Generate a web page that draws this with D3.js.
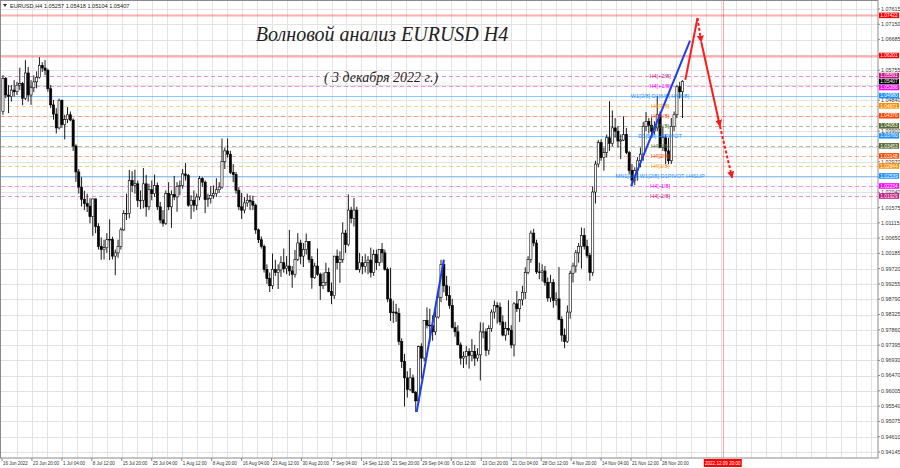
<!DOCTYPE html>
<html><head><meta charset="utf-8">
<script src="https://cdn.jsdelivr.net/npm/d3@7"></script>
<style>body{margin:0;background:#fff}svg{display:block}text{font-family:"Liberation Sans",Arial,sans-serif}</style>
</head><body><svg id="c" width="900" height="468"></svg>
<script>
// ---- data: EURUSD, half-day candles (3 H4 bars each), first = 16 Jun 12:00 ----
const firstOpen = 1.0450;
const highs = [1.0560,1.0555,1.0530,1.0530,1.0545,1.0540,1.0583,1.0540,1.0606,1.0585,
1.0545,1.0560,1.0572,1.0615,1.0600,1.0606,1.0580,1.0530,1.0485,1.0460,
1.0489,1.0486,1.0440,1.0463,1.0450,1.0429,1.0350,1.0275,1.0250,1.0209,
1.0200,1.0186,1.0185,1.0185,1.0110,1.0067,1.0060,1.0080,1.0122,1.0069,
1.0030,1.0060,1.0097,1.0150,1.0200,1.0272,1.0268,1.0273,1.0240,1.0210,
1.0278,1.0257,1.0230,1.0240,1.0258,1.0234,1.0175,1.0150,1.0210,1.0235,
1.0210,1.0254,1.0235,1.0240,1.0275,1.0293,1.0260,1.0195,1.0210,1.0200,
1.0254,1.0250,1.0240,1.0200,1.0223,1.0225,1.0247,1.0235,1.0368,1.0340,
1.0368,1.0330,1.0290,1.0266,1.0220,1.0202,1.0190,1.0200,1.0195,1.0194,
1.0170,1.0094,1.0070,1.0045,0.9985,0.9960,1.0018,0.9999,0.9985,1.0010,
1.0033,1.0010,1.0090,0.9980,1.0029,1.0080,1.0060,1.0050,1.0079,1.0056,
1.0010,0.9990,1.0033,0.9960,0.9960,0.9990,0.9975,0.9930,1.0011,1.0030,
1.0025,1.0113,1.0090,1.0198,1.0160,1.0187,1.0160,1.0020,1.0010,1.0017,
1.0010,1.0036,1.0030,1.0030,1.0030,1.0050,1.0030,0.9976,0.9975,0.9875,
0.9865,0.9852,0.9760,0.9713,0.9660,0.9670,0.9650,0.9600,0.9738,0.9745,
0.9815,0.9854,0.9850,0.9830,0.9849,0.9900,0.9999,0.9999,0.9950,0.9919,
0.9880,0.9810,0.9800,0.9748,0.9720,0.9737,0.9730,0.9758,0.9740,0.9730,
0.9809,0.9808,0.9790,0.9800,0.9848,0.9875,0.9870,0.9869,0.9830,0.9810,
0.9876,0.9800,0.9870,0.9904,0.9880,0.9920,0.9976,1.0010,1.0088,1.0093,
1.0060,0.9990,0.9985,0.9980,0.9945,0.9953,0.9940,0.9900,0.9977,0.9827,
0.9790,0.9860,0.9966,0.9990,1.0029,1.0050,1.0097,1.0095,1.0060,1.0020,
1.0222,1.0300,1.0363,1.0365,1.0340,1.0380,1.0481,1.0453,1.0430,1.0405,
1.0380,1.0435,1.0400,1.0330,1.0290,1.0280,1.0311,1.0340,1.0418,1.0448,
1.0430,1.0432,1.0420,1.0497,1.0450,1.0403,1.0380,1.0370,1.0430,1.0450,
1.0530,1.0540,1.0545];
const lows = [1.0440,1.0490,1.0445,1.0480,1.0495,1.0500,1.0515,1.0469,1.0485,1.0480,
1.0470,1.0509,1.0520,1.0550,1.0570,1.0560,1.0510,1.0460,1.0425,1.0383,
1.0395,1.0400,1.0365,1.0415,1.0420,1.0330,1.0236,1.0200,1.0161,1.0150,
1.0144,1.0110,1.0072,1.0080,1.0030,0.9999,1.0000,1.0020,0.9998,1.0000,
0.9952,1.0005,1.0030,1.0087,1.0120,1.0125,1.0205,1.0200,1.0160,1.0153,
1.0155,1.0130,1.0150,1.0180,1.0190,1.0150,1.0110,1.0100,1.0105,1.0150,
1.0096,1.0180,1.0145,1.0195,1.0215,1.0240,1.0160,1.0123,1.0145,1.0150,
1.0180,1.0220,1.0141,1.0160,1.0170,1.0185,1.0190,1.0202,1.0215,1.0275,
1.0310,1.0260,1.0235,1.0200,1.0150,1.0123,1.0140,1.0160,1.0150,1.0150,
1.0078,1.0050,1.0033,0.9960,0.9926,0.9901,0.9910,0.9950,0.9910,0.9947,
0.9960,0.9955,0.9950,0.9914,0.9945,0.9995,0.9985,0.9977,1.0015,0.9990,
0.9911,0.9941,0.9950,0.9877,0.9910,0.9920,0.9900,0.9864,0.9880,0.9970,
0.9929,0.9990,1.0020,1.0040,1.0110,1.0100,0.9967,0.9960,0.9955,0.9960,
0.9955,0.9945,0.9950,0.9968,0.9980,0.9990,0.9966,0.9870,0.9813,0.9807,
0.9810,0.9740,0.9670,0.9553,0.9580,0.9600,0.9593,0.9536,0.9560,0.9637,
0.9690,0.9790,0.9748,0.9753,0.9770,0.9820,0.9870,0.9900,0.9875,0.9850,
0.9790,0.9765,0.9740,0.9680,0.9670,0.9680,0.9668,0.9690,0.9676,0.9690,
0.9632,0.9760,0.9706,0.9710,0.9780,0.9820,0.9805,0.9800,0.9766,0.9753,
0.9770,0.9730,0.9705,0.9840,0.9810,0.9860,0.9880,0.9955,0.9990,1.0040,
0.9956,0.9940,0.9933,0.9920,0.9872,0.9870,0.9853,0.9860,0.9815,0.9750,
0.9730,0.9746,0.9820,0.9930,0.9960,0.9990,0.9972,1.0030,1.0005,0.9935,
0.9950,1.0170,1.0280,1.0300,1.0270,1.0310,1.0330,1.0344,1.0370,1.0340,
1.0305,1.0360,1.0320,1.0260,1.0223,1.0226,1.0240,1.0280,1.0300,1.0390,
1.0383,1.0370,1.0380,1.0390,1.0340,1.0330,1.0290,1.0290,1.0290,1.0390,
1.0430,1.0490,1.0430];
const closes = [1.0550,1.0500,1.0495,1.0515,1.0510,1.0530,1.0535,1.0490,1.0567,1.0500,
1.0522,1.0540,1.0554,1.0590,1.0582,1.0575,1.0519,1.0470,1.0442,1.0400,
1.0484,1.0410,1.0425,1.0440,1.0424,1.0345,1.0266,1.0220,1.0183,1.0170,
1.0162,1.0130,1.0184,1.0100,1.0040,1.0030,1.0036,1.0060,1.0061,1.0010,
1.0020,1.0040,1.0090,1.0140,1.0140,1.0240,1.0225,1.0230,1.0180,1.0180,
1.0230,1.0160,1.0212,1.0200,1.0225,1.0160,1.0120,1.0110,1.0200,1.0160,
1.0197,1.0190,1.0222,1.0225,1.0260,1.0255,1.0165,1.0180,1.0165,1.0190,
1.0246,1.0235,1.0182,1.0185,1.0195,1.0200,1.0212,1.0220,1.0298,1.0330,
1.0320,1.0265,1.0258,1.0210,1.0160,1.0150,1.0172,1.0180,1.0177,1.0165,
1.0090,1.0060,1.0040,0.9970,0.9942,0.9920,0.9970,0.9960,0.9968,0.9990,
0.9972,0.9980,0.9965,0.9955,1.0000,1.0050,1.0010,1.0030,1.0055,1.0000,
0.9945,0.9980,0.9955,0.9920,0.9930,0.9960,0.9903,0.9890,1.0010,0.9990,
1.0000,1.0080,1.0045,1.0150,1.0125,1.0150,0.9970,0.9990,0.9979,0.9990,
0.9998,0.9960,1.0015,0.9990,1.0030,1.0020,0.9970,0.9880,0.9838,0.9840,
0.9836,0.9750,0.9690,0.9640,0.9605,0.9640,0.9595,0.9570,0.9735,0.9700,
0.9815,0.9800,0.9800,0.9780,0.9825,0.9885,0.9985,0.9920,0.9890,0.9860,
0.9793,0.9780,0.9740,0.9700,0.9705,0.9720,0.9708,0.9720,0.9700,0.9710,
0.9780,0.9780,0.9724,0.9790,0.9840,0.9860,0.9855,0.9810,0.9770,0.9790,
0.9785,0.9740,0.9865,0.9850,0.9877,0.9900,0.9960,1.0000,1.0080,1.0050,
0.9962,0.9960,0.9965,0.9930,0.9883,0.9930,0.9875,0.9880,0.9818,0.9770,
0.9750,0.9840,0.9958,0.9980,1.0020,1.0040,1.0073,1.0040,1.0012,0.9960,
1.0205,1.0290,1.0355,1.0310,1.0325,1.0370,1.0353,1.0400,1.0390,1.0360,
1.0363,1.0380,1.0325,1.0270,1.0241,1.0270,1.0300,1.0320,1.0405,1.0420,
1.0408,1.0390,1.0400,1.0440,1.0340,1.0370,1.0330,1.0300,1.0405,1.0440,
1.0525,1.0510,1.0541];

const timeLabels = ["16 Jun 2022","23 Jun 20:00","1 Jul 04:00","8 Jul 12:00","15 Jul 20:00","25 Jul 04:00",
"1 Aug 12:00","8 Aug 20:00","16 Aug 04:00","23 Aug 12:00","30 Aug 20:00","7 Sep 04:00","14 Sep 12:00",
"21 Sep 20:00","29 Sep 04:00","6 Oct 12:00","13 Oct 20:00","21 Oct 04:00","28 Oct 12:00","4 Nov 20:00",
"14 Nov 04:00","21 Nov 12:00","28 Nov 20:00"];
const priceTicks = ["1.07615","1.07150","1.06685","1.06220","1.05755","1.05290","1.04840","1.04360","1.03900","1.03430",
"1.02970","1.02500","1.02040","1.01575","1.01115","1.00650","1.00185","0.99720","0.99255","0.98790","0.98325",
"0.97860","0.97395","0.96930","0.96470","0.96005","0.95540","0.95075","0.94610","0.94145"];

const levelPrices = [1.07422,1.06201,1.05591,1.05286,1.04980,1.04671,1.04370,1.04063,1.03760,1.03453,1.03148,1.02844,1.02539,1.02234,1.01929];
const levelColors = ["#ff0000","#ff0000","#c71585","#ff00ff","#1e90ff","#ff8c00","#ff4500","#556b2f","#1e90ff","#556b2f","#ff4500","#ff8c00","#1e90ff","#ff00ff","#c71585"];
const levelKinds  = ["thick","thick","dash","dash","solid","dash","dash","dash","solid","dash","dash","dash","solid","dash","dash"];
const levelTexts  = ["","","H4[+2/8]","H4[+1/8]","W1[3/8] D1[6/8] H4[8/8]","H4[7/8]","H4[6/8]","H4[5/8]","D1[5/8] H4PIVOT",
"H4[3/8]","H4[2/8]","H4[1/8]","MN1[3/8] W1[2/8] D1PIVOT H4SUP","H4[-1/8]","H4[-2/8]"];

const bidPrice = 1.05407;
const headerText = "EURUSD,H4  1.05257 1.05418 1.05104 1.05407";
const futureBar = 770, futureLabel = "2022.12.09 20:00";

// wave drawings: [bar index, price]
const blueWave1 = [[443,0.9536],[472,0.9999]];
const blueWave2 = [[672,1.0223],[735,1.0665]];
const redUp     = [[730,1.0546],[743,1.0734]];
const redDash1  = [[743,1.0734],[747,1.0661]];
const redDown   = [[747,1.0661],[767,1.0405]];
const redDash2  = [[767,1.0405],[780,1.0248]];

// ---- drawing ----
const svg = d3.select("#c");
const PR = 878, PB = 458;
const x = d3.scaleLinear().domain([0,704]).range([2,661]);
const y = d3.scaleLinear().domain([0.94145,1.07615]).range([452,9]);

svg.append("rect").attr("width",900).attr("height",468).attr("fill","#fff");

// grid
const grid = svg.append("g").attr("stroke","#e3e3e3").attr("stroke-width",1);
for (let b=16; x(b)<PR; b+=16) grid.append("line").attr("x1",Math.round(x(b))+0.5).attr("x2",Math.round(x(b))+0.5).attr("y1",0).attr("y2",PB);
priceTicks.forEach(t=>grid.append("line").attr("x1",1).attr("x2",PR).attr("y1",Math.round(y(+t))+0.5).attr("y2",Math.round(y(+t))+0.5));

// level lines
const lv = svg.append("g");
levelPrices.forEach((p,i)=>{
  const yy = Math.round(y(p))+0.5;
  const ln = lv.append("line").attr("x1",1).attr("x2",PR).attr("y1",yy).attr("y2",yy).attr("stroke",levelColors[i]);
  if (levelKinds[i]==="thick") ln.attr("stroke-width",2).attr("stroke-opacity",0.32);
  else if (levelKinds[i]==="solid") ln.attr("stroke-width",1).attr("stroke-opacity",0.5);
  else ln.attr("stroke-width",1).attr("stroke-opacity",0.45).attr("stroke-dasharray","4,3");
});
// future time line
svg.append("line").attr("x1",Math.round(x(futureBar))+0.5).attr("x2",Math.round(x(futureBar))+0.5)
  .attr("y1",0).attr("y2",PB).attr("stroke","#ff0000").attr("stroke-opacity",0.35);

// candles
const candles = closes.map((c,i)=>({o: i? closes[i-1] : firstOpen, h: highs[i], l: lows[i], c, bar: i*3+1}));
const cg = svg.append("g");
cg.selectAll("line.w").data(candles).join("line")
  .attr("x1",d=>x(d.bar)).attr("x2",d=>x(d.bar)).attr("y1",d=>y(d.h)).attr("y2",d=>y(d.l))
  .attr("stroke","#000").attr("stroke-width",0.9);
cg.selectAll("rect.b").data(candles).join("rect")
  .attr("x",d=>x(d.bar)-1.1).attr("width",2.2)
  .attr("y",d=>y(Math.max(d.o,d.c))).attr("height",d=>Math.max(0.7,Math.abs(y(d.o)-y(d.c))))
  .attr("fill",d=>d.c>=d.o?"#fff":"#000").attr("stroke","#000").attr("stroke-width",0.6);

// level texts
levelPrices.forEach((p,i)=>{
  if (!levelTexts[i]) return;
  svg.append("text").attr("x",x(703)).attr("y",y(p)).attr("dy","0.35em").attr("text-anchor","middle")
    .attr("font-size",5.6).attr("fill",levelColors[i]).text(levelTexts[i]);
});

// wave lines
const defs = svg.append("defs");
defs.append("marker").attr("id","ar").attr("viewBox","0 0 10 10").attr("refX",9).attr("refY",5)
  .attr("markerWidth",7).attr("markerHeight",7).attr("markerUnits","userSpaceOnUse").attr("orient","auto")
  .append("path").attr("d","M0,0 L10,5 L0,10 z").attr("fill","#ff1a1a");
const lineGen = d3.line().x(d=>x(d[0])).y(d=>y(d[1]));
[blueWave1,blueWave2].forEach(w=>svg.append("path").attr("d",lineGen(w)).attr("stroke","#1f3fe6").attr("stroke-width",2).attr("fill","none"));
svg.append("path").attr("d",lineGen(redUp)).attr("stroke","#ff1a1a").attr("stroke-width",2).attr("fill","none");
svg.append("path").attr("d",lineGen(redDash1)).attr("stroke","#ff1a1a").attr("stroke-width",2).attr("stroke-dasharray","3,2").attr("fill","none").attr("marker-end","url(#ar)");
svg.append("path").attr("d",lineGen(redDown)).attr("stroke","#ff1a1a").attr("stroke-width",2).attr("fill","none").attr("marker-end","url(#ar)");
svg.append("path").attr("d",lineGen(redDash2)).attr("stroke","#ff1a1a").attr("stroke-width",2).attr("stroke-dasharray","3,2").attr("fill","none").attr("marker-end","url(#ar)");

// titles
svg.append("text").attr("x",382).attr("y",41).attr("text-anchor","middle")
  .style("font-family","'Liberation Serif',serif").style("font-style","italic").attr("font-size",20).attr("fill","#222")
  .text("Волновой анализ EURUSD H4");
svg.append("text").attr("x",381).attr("y",82).attr("text-anchor","middle")
  .style("font-family","'Liberation Serif',serif").style("font-style","italic").attr("font-size",14).attr("fill","#222")
  .text("( 3 декабря 2022 г.)");

// header
svg.append("path").attr("d","M3,4 L7,4 L5,7 z").attr("fill","#333");
svg.append("text").attr("x",10).attr("y",7.5).attr("font-size",5.6).attr("fill","#222").text(headerText);

// frame
svg.append("rect").attr("x",0.5).attr("y",0.5).attr("width",PR-0.5).attr("height",PB-0.5).attr("fill","none").attr("stroke","#8a8a8a");

// right axis: price boxes (stacked without overlap) and tick labels not hidden by a box
const ra = svg.append("g");
const boxes = levelPrices.map((p,i)=>({p, col: levelColors[i]})).concat([{p: bidPrice, col:"#000"}])
  .sort((a,b)=>b.p-a.p);
const BH = 5.6;
let prevY = -100;
boxes.forEach(b=>{ b.y = Math.max(y(b.p), prevY + BH + 0.3); prevY = b.y; });
priceTicks.forEach(t=>{
  const yy = y(+t);
  ra.append("line").attr("x1",PR).attr("x2",PR+2).attr("y1",yy).attr("y2",yy).attr("stroke","#888");
  if (boxes.some(b=>Math.abs(b.y-yy) < 3)) return;
  ra.append("text").attr("x",881).attr("y",yy).attr("dy","0.35em").attr("font-size",5.4).attr("fill","#333").text(t);
});
boxes.forEach(b=>{
  ra.append("rect").attr("x",879).attr("y",b.y-BH/2).attr("width",20).attr("height",BH).attr("fill",b.col);
  ra.append("text").attr("x",889).attr("y",b.y).attr("dy","0.35em").attr("text-anchor","middle")
    .attr("font-size",4.8).attr("fill","#fff").text(b.p.toFixed(5));
});

// bottom axis
const ba = svg.append("g");
timeLabels.forEach((t,i)=>{
  const xx = x(i*32);
  ba.append("line").attr("x1",xx).attr("x2",xx).attr("y1",PB).attr("y2",PB+3).attr("stroke","#888");
  ba.append("text").attr("x",xx+1).attr("y",465).attr("font-size",4.5).attr("fill","#333").text(t);
});
const fx = x(futureBar);
ba.append("rect").attr("x",fx-19).attr("y",459).attr("width",38).attr("height",8).attr("fill","#ff0000");
ba.append("text").attr("x",fx).attr("y",465).attr("text-anchor","middle").attr("font-size",4.6).attr("fill","#fff").text(futureLabel);
</script></body></html>
